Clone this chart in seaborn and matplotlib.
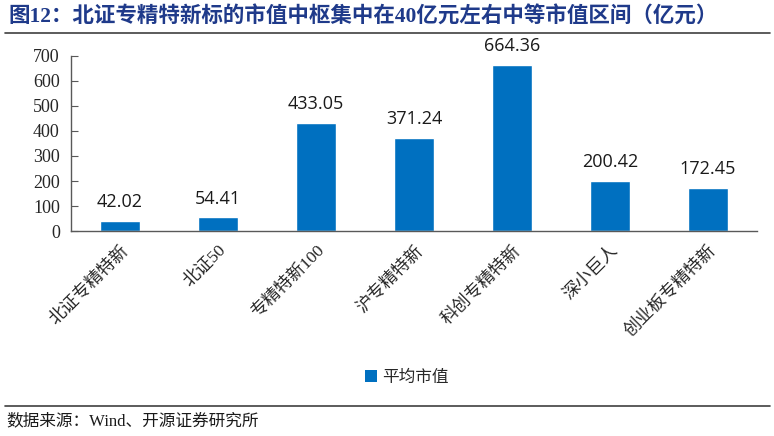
import numpy as np
import pandas as pd
import seaborn as sns
import matplotlib.pyplot as plt
from matplotlib.patches import Patch
from matplotlib.lines import Line2D

# 数据
categories = ['北证专精特新', '北证50', '专精特新100', '沪专精特新',
              '科创专精特新', '深小巨人', '创业板专精特新']
avg_cap = [42.02, 54.41, 433.05, 371.24, 664.36, 200.42, 172.45]
series_name = '平均市值'
y_ticks = [0, 100, 200, 300, 400, 500, 600, 700]

title = '图12：北证专精特新标的市值中枢集中在40亿元左右中等市值区间（亿元）'
source = '数据来源：Wind、开源证券研究所'

sns.set_style('white')
plt.rcParams['font.family'] = ['Liberation Serif', 'Noto Sans CJK SC', 'DejaVu Sans']

df = pd.DataFrame({'cat': categories, 'val': avg_cap})

fig = plt.figure(figsize=(7.74, 4.36), dpi=100)
ax = fig.add_axes([0.0917, 0.470, 0.8863, 0.402])

bar_color = '#0070C0'
sns.barplot(data=df, x='cat', y='val', color=bar_color, saturation=1, width=0.4, ax=ax)

for x, v in enumerate(avg_cap):
    ax.annotate(f'{v:.2f}', (x, v), xytext=(0, 7), textcoords='offset points',
                ha='center', va='bottom', fontsize=13, family='Open Sans',
                color='#1a1a1a')

ax.set_xlim(-0.5, len(categories) - 0.5)
ax.set_ylim(0, 700)
ax.set_yticks(y_ticks)
ax.set_yticklabels([str(t) for t in y_ticks], fontsize=13)
ax.set_xlabel('')
ax.set_ylabel('')

ax.set_xticks(range(len(categories)))
ax.set_xticklabels(categories, rotation=45, ha='right', rotation_mode='anchor',
                   fontsize=12.5, family=['Liberation Serif', 'Noto Sans CJK SC'])
ax.set_xticks(np.arange(-0.5, len(categories), 1.0), minor=True)
ax.tick_params(axis='x', which='major', length=0, pad=8)
ax.tick_params(axis='x', which='minor', direction='in', length=5, color='#595959')
ax.tick_params(axis='y', direction='in', length=5, color='#595959', pad=8, left=True)

for s in ['top', 'right']:
    ax.spines[s].set_visible(False)
for s in ['left', 'bottom']:
    ax.spines[s].set_color('#595959')
    ax.spines[s].set_linewidth(1.0)

# 图例
handle = Patch(facecolor=bar_color, edgecolor='none')
fig.legend([handle], [series_name], loc='center', bbox_to_anchor=(407 / 774, 1 - 377 / 436),
           frameon=False, handlelength=0.7, handleheight=0.7,
           handletextpad=0.3, prop={'family': ['Noto Sans CJK SC'], 'size': 12})

# 标题与来源
fig.text(8 / 774, 1 - 17 / 436, title, fontsize=15.5, fontweight='bold', color='#1F3A8A',
         ha='left', va='center', family=['Liberation Serif', 'Noto Sans CJK SC'])
fig.add_artist(Line2D([5 / 774, 770 / 774], [1 - 33 / 436] * 2, color='#404040', lw=1.2))
fig.add_artist(Line2D([5 / 774, 770 / 774], [1 - 406 / 436] * 2, color='#404040', lw=1.2))
fig.text(6 / 774, 1 - 421 / 436, source, fontsize=12, color='#1a1a1a',
         ha='left', va='center', family=['Liberation Serif', 'Noto Sans CJK SC'])

fig.savefig('out.png', dpi=100)
